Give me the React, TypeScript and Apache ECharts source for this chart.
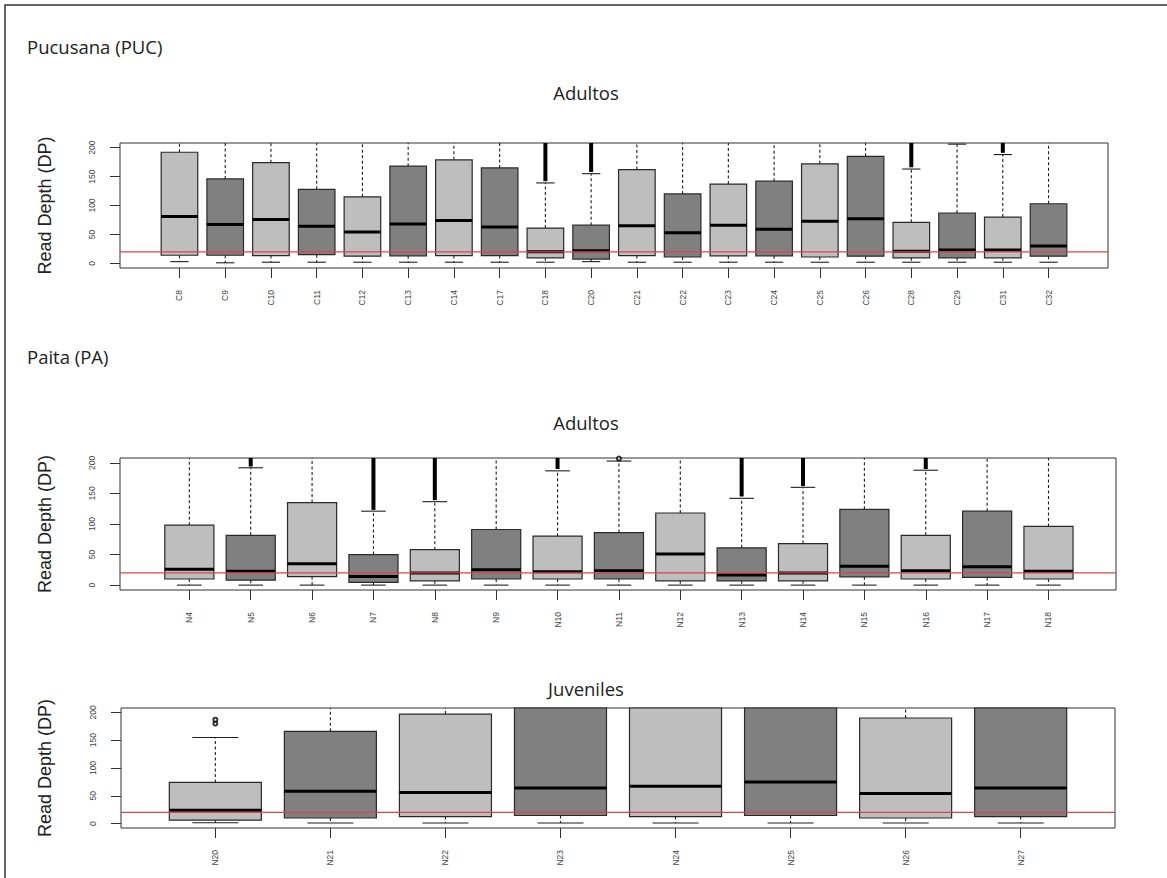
import React, { useEffect, useRef } from "react";
import * as echarts from "echarts";

// ---------- data ----------
const Y_MIN = -8;
const Y_MAX = 208;
const yTickValues = [0, 50, 100, 150, 200];
const thresholdDP = 20;

// Pucusana (PUC) - Adultos
const pucCategories = ["C8", "C9", "C10", "C11", "C12", "C13", "C14", "C17", "C18", "C20", "C21", "C22", "C23", "C24", "C25", "C26", "C28", "C29", "C31", "C32"];
const pucLow = [3, 1, 2, 2, 2, 2, 2, 2, 2, 3, 2, 2, 2, 2, 2, 2, 2, 2, 2, 2];
const pucQ1 = [14, 14, 13.5, 15, 12.5, 13, 13.5, 13.5, 9.5, 7.5, 13.5, 11, 13, 13, 11, 12.5, 9.5, 9.5, 9.5, 12.5];
const pucMedian = [81, 67, 76, 64, 54, 68, 74, 63, 20, 22, 65, 53, 66, 59, 73, 77, 21, 23, 23, 30];
const pucQ3 = [192, 146, 174, 128, 115, 168, 179, 165, 61, 66, 162, 120, 137, 142, 172, 185, 71, 87, 80, 103];
const pucHigh = [320, 290, 310, 260, 240, 300, 320, 300, 139, 155, 300, 250, 270, 270, 310, 330, 163, 206, 188, 240];
const pucDenseOutliersFrom = [null, null, null, null, null, null, null, null, 142, 158, null, null, null, null, null, null, 166, null, 191, null];
const pucOutliers: [string, number][] = [];

// Paita (PA) - Adultos
const paCategories = ["N4", "N5", "N6", "N7", "N8", "N9", "N10", "N11", "N12", "N13", "N14", "N15", "N16", "N17", "N18"];
const paLow = [0, 0, 0, 0, 0, 0, 0, 0, 0, 0, 0, 0, 0, 0, 0];
const paQ1 = [10, 8, 14, 4.5, 7, 10, 10, 10, 7, 7, 7, 13.5, 10, 12.5, 10];
const paMedian = [26, 22.5, 35, 14, 20, 25, 22, 23.5, 51, 16.5, 20, 31, 23.5, 30, 22.5];
const paQ3 = [98, 81.5, 135, 50, 58, 91, 80, 86, 118, 61, 68, 124, 81.5, 121, 96];
const paHigh = [260, 192, 280, 121, 136.5, 250, 187, 203, 270, 142, 160, 280, 188, 280, 260];
const paDenseOutliersFrom = [null, 194, null, 123, 139, null, 190, null, null, 145, 162, null, 190, null, null];
const paOutliers: [string, number][] = [["N11", 207]];

// Paita (PA) - Juveniles
const juvCategories = ["N20", "N21", "N22", "N23", "N24", "N25", "N26", "N27"];
const juvLow = [1.5, 1, 1, 1, 1, 1, 1, 1];
const juvQ1 = [6, 10, 12.5, 14.5, 12.5, 14.5, 10, 12.5];
const juvMedian = [24, 58, 56, 64, 67, 75, 54, 64];
const juvQ3 = [74, 166, 197, 240, 228, 250, 190, 235];
const juvHigh = [155, 320, 340, 420, 400, 430, 300, 410];
const juvDenseOutliersFrom = [null, null, null, null, null, null, null, null];
const juvOutliers: [string, number][] = [["N20", 180], ["N20", 187]];

// ---------- layout / style ----------
const LIGHT = "#bebebe";
const DARK = "#808080";
const INK = "#1e1e1e";
const BOX_WIDTH = 0.8;
const TICK_FONT = "Liberation Sans";

const PANELS = [
  { categories: pucCategories, low: pucLow, q1: pucQ1, median: pucMedian, q3: pucQ3, high: pucHigh, dense: pucDenseOutliersFrom, outliers: pucOutliers,
    top: 143, height: 125, left: 120, right: 59, xMin: -0.3, xMax: 21.3, title: "Adultos", titleY: 92 },
  { categories: paCategories, low: paLow, q1: paQ1, median: paMedian, q3: paQ3, high: paHigh, dense: paDenseOutliersFrom, outliers: paOutliers,
    top: 458, height: 132, left: 120, right: 51, xMin: -0.13, xMax: 16.1, title: "Adultos", titleY: 422 },
  { categories: juvCategories, low: juvLow, q1: juvQ1, median: juvMedian, q3: juvQ3, high: juvHigh, dense: juvDenseOutliersFrom, outliers: juvOutliers,
    top: 708, height: 120, left: 121, right: 52, xMin: 0.18, xMax: 8.82, title: "Juveniles", titleY: 688 },
];

function clampY(v: number) {
  return Math.max(Y_MIN, Math.min(Y_MAX, v));
}

function makeRenderItem(p: any) {
  return (params: any, api: any) => {
    const i = params.dataIndex;
    const x = i + 1;
    const pt = (v: number) => api.coord([x, clampY(v)]);
    const half = api.size([BOX_WIDTH, 0])[0] / 2;
    const capHalf = half * 0.5;
    const cx = pt(p.median[i])[0];
    const yLo = pt(p.low[i])[1];
    const yQ1 = pt(p.q1[i])[1];
    const yMed = pt(p.median[i])[1];
    const yQ3 = pt(p.q3[i])[1];
    const yHi = pt(p.high[i])[1];
    const fill = i % 2 === 0 ? LIGHT : DARK;
    const children: any[] = [];
    const dash = { stroke: INK, lineWidth: 1.1, lineDash: [3, 2.5] };
    children.push({ type: "line", shape: { x1: cx, y1: yQ3, x2: cx, y2: yHi }, style: dash });
    children.push({ type: "line", shape: { x1: cx, y1: yQ1, x2: cx, y2: yLo }, style: dash });
    if (p.high[i] <= Y_MAX) {
      children.push({ type: "line", shape: { x1: cx - capHalf, y1: yHi, x2: cx + capHalf, y2: yHi }, style: { stroke: INK, lineWidth: 1.1 } });
    }
    children.push({ type: "line", shape: { x1: cx - capHalf, y1: yLo, x2: cx + capHalf, y2: yLo }, style: { stroke: INK, lineWidth: 1.1 } });
    children.push({
      type: "rect",
      shape: { x: cx - half, y: yQ3, width: half * 2, height: yQ1 - yQ3 },
      style: { fill, stroke: "#2a2a2a", lineWidth: 1.2 },
    });
    children.push({ type: "line", shape: { x1: cx - half, y1: yMed, x2: cx + half, y2: yMed }, style: { stroke: "#000", lineWidth: 3 } });
    const d = p.dense[i];
    if (d !== null && d !== undefined) {
      const yD = pt(d)[1];
      const yTop = pt(Y_MAX)[1];
      children.push({ type: "line", shape: { x1: cx, y1: yD, x2: cx, y2: yTop }, style: { stroke: "#000", lineWidth: 4 } });
    }
    return { type: "group", children };
  };
}

export default function App() {
  const ref = useRef<HTMLDivElement>(null);
  useEffect(() => {
    document.body.style.margin = "0";
    if (!ref.current) return;
    const chart = echarts.init(ref.current, undefined, { renderer: "svg" });

    const grid = PANELS.map((p) => ({
      left: p.left, right: p.right, top: p.top, height: p.height,
      show: true, borderColor: "#333", borderWidth: 1, backgroundColor: "transparent",
      containLabel: false, outerBoundsMode: "none",
    }));

    const xAxis = PANELS.map((p, k) => {
      const ticks = p.categories.map((_: string, i: number) => i + 1);
      return {
        type: "value", gridIndex: k, min: p.xMin, max: p.xMax,
        splitLine: { show: false },
        axisLine: { show: false, onZero: false },
        axisTick: { show: true, length: 10, lineStyle: { color: "#333", width: 1 }, customValues: ticks },
        axisLabel: {
          show: true, rotate: 90, fontSize: 8.5, color: "#444", fontFamily: TICK_FONT, margin: 22,
          customValues: ticks, hideOverlap: false,
          formatter: (v: number) => p.categories[Math.round(v) - 1] ?? "",
        },
      };
    });

    const yAxis = PANELS.map((p, k) => ({
      type: "value", gridIndex: k, min: Y_MIN, max: Y_MAX,
      splitLine: { show: false },
      axisLine: { show: false, onZero: false },
      axisTick: { show: true, length: 10, lineStyle: { color: "#333", width: 1 }, customValues: yTickValues },
      axisLabel: { show: true, rotate: 90, fontSize: 8.5, color: "#444", fontFamily: TICK_FONT, margin: 24, customValues: yTickValues, hideOverlap: false },
    }));

    const series: any[] = [];
    PANELS.forEach((p, k) => {
      series.push({
        type: "custom", xAxisIndex: k, yAxisIndex: k,
        data: p.median.map((m: number, i: number) => [i + 1, m]),
        renderItem: makeRenderItem(p),
        z: 2, silent: true,
      });
      if (p.outliers.length) {
        series.push({
          type: "scatter", xAxisIndex: k, yAxisIndex: k,
          data: p.outliers.map(([c, v]) => [p.categories.indexOf(c) + 1, v]),
          symbol: "emptyCircle", symbolSize: 4,
          itemStyle: { color: "#000", borderColor: "#000", borderWidth: 1 },
          z: 3, silent: true,
        });
      }
      series.push({
        type: "line", xAxisIndex: k, yAxisIndex: k,
        data: [[p.xMin, thresholdDP], [p.xMax, thresholdDP]],
        symbol: "none", lineStyle: { color: "#d8454d", width: 1.3 },
        z: 4, silent: true,
      });
    });

    const graphic: any[] = [
      { type: "rect", shape: { x: 5, y: 5, width: 1300, height: 1000 }, style: { fill: "none", stroke: "#333", lineWidth: 1.5 }, silent: true },
      { type: "text", x: 27, y: 46, style: { text: "Pucusana (PUC)", font: '18.5px "Open Sans"', fill: "#222", textAlign: "left", textVerticalAlign: "middle" } },
      { type: "text", x: 27, y: 356, style: { text: "Paita (PA)", font: '18.5px "Open Sans"', fill: "#222", textAlign: "left", textVerticalAlign: "middle" } },
    ];
    PANELS.forEach((p) => {
      graphic.push({ type: "text", x: 586, y: p.titleY, style: { text: p.title, font: '18.5px "Open Sans"', fill: "#222", textAlign: "center", textVerticalAlign: "middle" } });
      graphic.push({
        type: "text", x: 45, y: p.top + p.height / 2, rotation: Math.PI / 2,
        style: { text: "Read Depth (DP)", font: '18px "Liberation Sans"', fill: "#222", textAlign: "center", textVerticalAlign: "middle" },
      });
    });

    chart.setOption({
      animation: false,
      backgroundColor: "#fff",
      grid, xAxis, yAxis, series, graphic,
    });
    return () => chart.dispose();
  }, []);
  return <div ref={ref} style={{ width: 1167, height: 878 }} />;
}
